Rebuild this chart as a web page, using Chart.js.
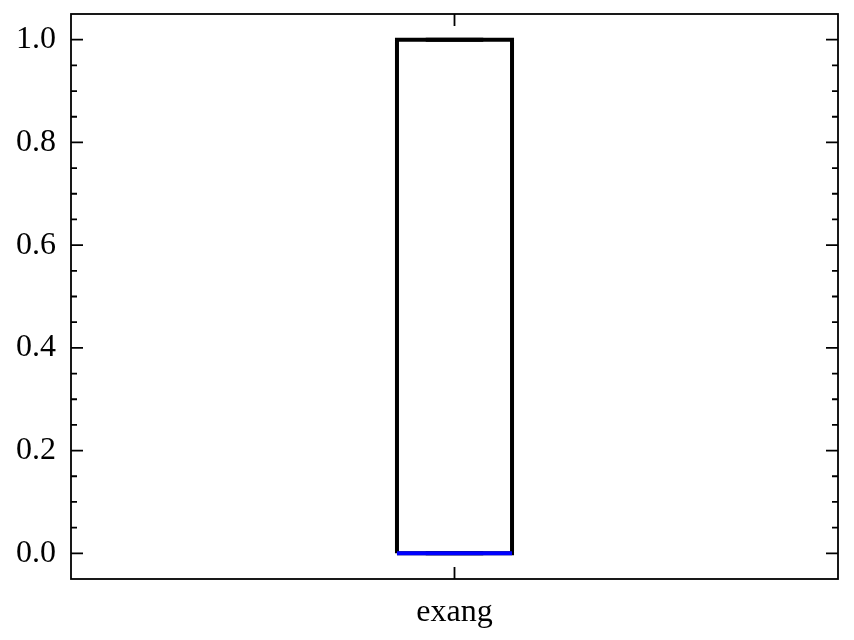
<!DOCTYPE html>
<html>
<head>
<meta charset="utf-8">
<script src="https://cdn.jsdelivr.net/npm/chart.js@4/dist/chart.umd.min.js"></script>
<style>
  html, body { margin: 0; padding: 0; background: #fff; }
  #wrap { width: 854px; height: 640px; }
</style>
</head>
<body>
<div id="wrap"><canvas id="c" width="854" height="640"></canvas></div>
<script>
// ---- data ----
const categories = ['exang'];
const q1 = [0];
const median = [0];
const q3 = [1];
const whiskerLow = [0];
const whiskerHigh = [1];
const yMajorTicks = [0.0, 0.2, 0.4, 0.6, 0.8, 1.0];
const yMinorTicks = [0.05, 0.1, 0.15, 0.25, 0.3, 0.35, 0.45, 0.5, 0.55, 0.65, 0.7, 0.75, 0.85, 0.9, 0.95];

const BOX_HALF = 0.075;
const CAP_HALF = 0.0375;
const LW = 4;
const FONT = 'Liberation Serif';
const FSIZE = 32;

const datasets = [];
categories.forEach((cat, i) => {
  const x = i + 1;
  datasets.push({ data: [{x: x, y: q1[i]}, {x: x, y: whiskerLow[i]}], borderColor: '#000', borderWidth: LW, order: 3 });
  datasets.push({ data: [{x: x, y: q3[i]}, {x: x, y: whiskerHigh[i]}], borderColor: '#000', borderWidth: LW, order: 3 });
  datasets.push({ data: [{x: x - CAP_HALF, y: whiskerLow[i]}, {x: x + CAP_HALF, y: whiskerLow[i]}], borderColor: '#000', borderWidth: LW, order: 3 });
  datasets.push({ data: [{x: x - CAP_HALF, y: whiskerHigh[i]}, {x: x + CAP_HALF, y: whiskerHigh[i]}], borderColor: '#000', borderWidth: LW, order: 3 });
  datasets.push({ data: [
      {x: x - BOX_HALF, y: q1[i]}, {x: x - BOX_HALF, y: q3[i]},
      {x: x + BOX_HALF, y: q3[i]}, {x: x + BOX_HALF, y: q1[i]},
      {x: x - BOX_HALF, y: q1[i]}],
    borderColor: '#000', borderWidth: LW, order: 2, borderJoinStyle: 'miter' });
  datasets.push({ data: [{x: x - BOX_HALF, y: median[i]}, {x: x + BOX_HALF, y: median[i]}], borderColor: '#0000ff', borderWidth: LW, order: 0 });
});
datasets.forEach(d => { d.showLine = true; d.pointRadius = 0; d.clip = false; d.fill = false; d.tension = 0; });

const tickPlugin = {
  id: 'frameTicks',
  afterDraw(chart) {
    const ctx = chart.ctx, a = chart.chartArea;
    const ys = chart.scales.y, xs = chart.scales.x;
    ctx.save();
    ctx.strokeStyle = '#000';
    ctx.lineWidth = 1.8;
    ctx.strokeRect(a.left, a.top, a.right - a.left, a.bottom - a.top);
    const major = 12, minor = 6;
    const drawY = (v, len) => {
      const p = ys.getPixelForValue(v);
      ctx.beginPath();
      ctx.moveTo(a.left, p); ctx.lineTo(a.left + len, p);
      ctx.moveTo(a.right, p); ctx.lineTo(a.right - len, p);
      ctx.stroke();
    };
    yMajorTicks.forEach(v => drawY(v, major));
    yMinorTicks.forEach(v => drawY(v, minor));
    categories.forEach((c, i) => {
      const p = xs.getPixelForValue(i + 1);
      ctx.beginPath();
      ctx.moveTo(p, a.bottom); ctx.lineTo(p, a.bottom - major);
      ctx.moveTo(p, a.top); ctx.lineTo(p, a.top + major);
      ctx.stroke();
    });
    ctx.restore();
  }
};

new Chart(document.getElementById('c'), {
  type: 'scatter',
  data: { datasets },
  options: {
    responsive: false,
    animation: false,
    events: [],
    layout: { padding: { top: 14, right: 16, left: 0, bottom: 0 } },
    plugins: { legend: { display: false }, tooltip: { enabled: false } },
    scales: {
      x: {
        type: 'linear',
        min: 0.5, max: categories.length + 0.5,
        grid: { display: false, drawTicks: false },
        border: { display: false },
        afterBuildTicks: s => { s.ticks = categories.map((c, i) => ({ value: i + 1 })); },
        afterFit: s => { s.height = 61; s.paddingLeft = 0; s.paddingRight = 0; },
        ticks: {
          padding: 14,
          color: '#000',
          font: { family: FONT, size: FSIZE },
          callback: v => categories[Math.round(v) - 1] ?? ''
        }
      },
      y: {
        type: 'linear',
        min: -0.05, max: 1.05,
        grid: { display: false, drawTicks: false },
        border: { display: false },
        afterBuildTicks: s => { s.ticks = yMajorTicks.map(v => ({ value: v })); },
        afterFit: s => { s.width = 71; s.paddingTop = 0; s.paddingBottom = 0; },
        ticks: {
          padding: 15,
          color: '#000',
          font: { family: FONT, size: FSIZE },
          callback: v => Number(v).toFixed(1)
        }
      }
    }
  },
  plugins: [tickPlugin]
});
</script>
</body>
</html>
